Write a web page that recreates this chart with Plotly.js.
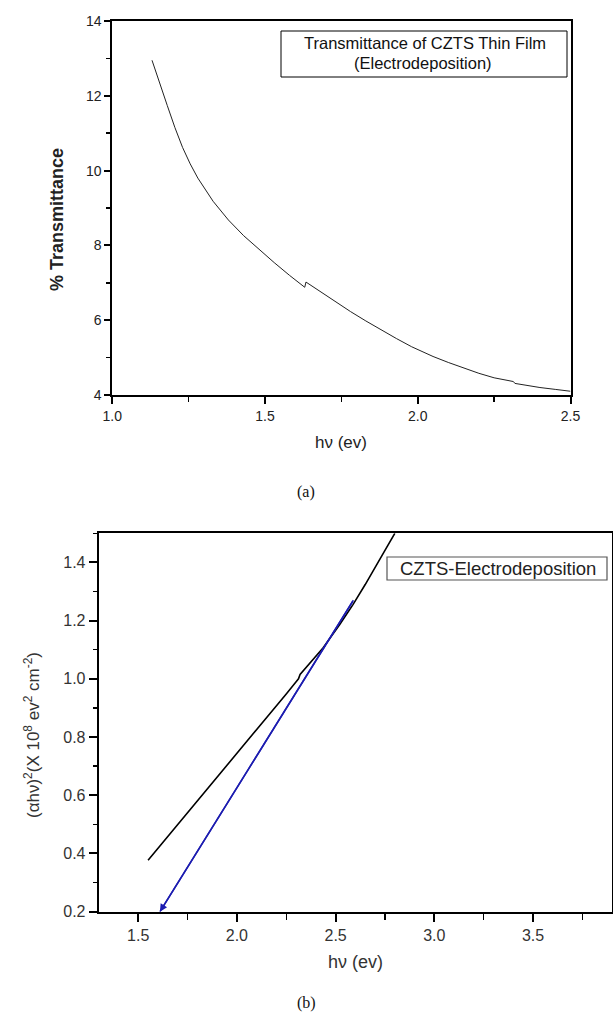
<!DOCTYPE html>
<html>
<head>
<meta charset="utf-8">
<script src="https://cdn.plot.ly/plotly-3.0.1.min.js"></script>
<style>
html,body{margin:0;padding:0;background:#fff;}
#chart{width:613px;height:1020px;}
</style>
</head>
<body>
<div id="chart"></div>
<script>
// (a) Transmittance vs photon energy
const transX = [1.13, 1.155, 1.18, 1.205, 1.23, 1.255, 1.28, 1.33, 1.38, 1.43, 1.48, 1.53, 1.58, 1.630, 1.634, 1.68, 1.73, 1.78, 1.83, 1.88, 1.93, 1.98, 2.05, 2.10, 2.15, 2.20, 2.25, 2.30, 2.313, 2.318, 2.35, 2.40, 2.45, 2.50];
const transY = [12.95, 12.32, 11.74, 11.15, 10.62, 10.18, 9.80, 9.18, 8.68, 8.26, 7.89, 7.54, 7.20, 6.88, 7.02, 6.77, 6.50, 6.23, 5.98, 5.74, 5.51, 5.29, 5.03, 4.87, 4.72, 4.58, 4.46, 4.38, 4.36, 4.31, 4.26, 4.20, 4.15, 4.10];

// (b) Tauc plot (alpha h nu)^2 vs h nu
const taucX = [1.55, 1.65, 1.743, 1.85, 1.98, 2.08, 2.183, 2.25, 2.30, 2.312, 2.32, 2.37, 2.436, 2.52, 2.588, 2.65, 2.706, 2.75, 2.80];
const taucY = [0.377, 0.458, 0.536, 0.623, 0.728, 0.810, 0.893, 0.948, 0.990, 1.000, 1.015, 1.053, 1.106, 1.186, 1.255, 1.324, 1.387, 1.441, 1.50];

// linear extrapolation (tail -> head)
const fitX = [2.59, 1.61];
const fitY = [1.27, 0.2];

// texts
const topXTitle = 'hν (ev)';
const topYTitle = '% Transmittance';
const topLegend1 = 'Transmittance of CZTS Thin Film';
const topLegend2 = '(Electrodeposition)';
const botXTitle = 'hν (ev)';
const botYTitle = '(αhν)<sup>2</sup>(X 10<sup>8</sup> ev<sup>2</sup> cm<sup>-2</sup>)';
const botLegend = 'CZTS-Electrodeposition';

const W = 613, H = 1020;
const px = v => v / W;
const py = v => 1 - v / H;
const FONT = 'Liberation Sans, Arial, sans-serif';

const traces = [
  {x: transX, y: transY, xaxis: 'x', yaxis: 'y', mode: 'lines',
   line: {color: '#222222', width: 1}, showlegend: false, hoverinfo: 'skip'},
  {x: taucX, y: taucY, xaxis: 'x2', yaxis: 'y2', mode: 'lines',
   line: {color: '#000000', width: 1.6}, showlegend: false, hoverinfo: 'skip'},
  {x: fitX, y: fitY, xaxis: 'x2', yaxis: 'y2', mode: 'lines',
   line: {color: '#1c1cb0', width: 1.5}, showlegend: false, hoverinfo: 'skip'}
];

const axCommon = {
  showgrid: false, zeroline: false, showline: true, linecolor: '#000', linewidth: 2,
  mirror: true, ticks: 'outside', tickcolor: '#000', tickwidth: 2,
  fixedrange: true
};

const layout = {
  width: W, height: H,
  margin: {l: 0, r: 0, t: 0, b: 0},
  paper_bgcolor: '#fff', plot_bgcolor: '#fff',
  font: {family: FONT, color: '#222', size: 14},
  showlegend: false,
  xaxis: Object.assign({}, axCommon, {
    domain: [px(112.3), px(570.5)], anchor: 'y', range: [1.0, 2.5],
    tick0: 1.0, dtick: 0.5, tickformat: '.1f', ticklen: 7,
    tickfont: {size: 14, color: '#222', family: FONT},
    minor: {tick0: 1.0, dtick: 0.25, ticks: 'outside', ticklen: 5, tickwidth: 1.5, tickcolor: '#000'}
  }),
  yaxis: Object.assign({}, axCommon, {
    domain: [py(395), py(21)], anchor: 'x', range: [4, 14],
    tick0: 4, dtick: 2, tickformat: 'd', ticklen: 6,
    tickfont: {size: 14, color: '#222', family: FONT},
    minor: {tick0: 4, dtick: 1, ticks: 'outside', ticklen: 4, tickwidth: 1.5, tickcolor: '#000'}
  }),
  xaxis2: Object.assign({}, axCommon, {
    domain: [px(98.7), px(612)], anchor: 'y2', range: [1.3, 3.9],
    tick0: 1.5, dtick: 0.5, tickformat: '.1f', ticklen: 8,
    tickfont: {size: 16, color: '#333', family: FONT},
    minor: {tick0: 1.5, dtick: 0.25, ticks: 'outside', ticklen: 6, tickwidth: 1.5, tickcolor: '#000'}
  }),
  yaxis2: Object.assign({}, axCommon, {
    domain: [py(911.7), py(533.3)], anchor: 'x2', range: [0.2, 1.5],
    tick0: 0.2, dtick: 0.2, tickformat: '.1f', ticklen: 8,
    tickfont: {size: 16, color: '#333', family: FONT},
    minor: {tick0: 0.2, dtick: 0.1, ticks: 'outside', ticklen: 4, tickwidth: 1.5, tickcolor: '#000'}
  }),
  shapes: [
    {type: 'rect', xref: 'paper', yref: 'paper', x0: px(281), x1: px(567), y0: py(77), y1: py(31),
     line: {color: '#000', width: 1}, fillcolor: 'rgba(0,0,0,0)'},
    {type: 'rect', xref: 'paper', yref: 'paper', x0: px(387), x1: px(607), y0: py(580), y1: py(557),
     line: {color: '#555', width: 1.2}, fillcolor: 'rgba(0,0,0,0)'}
  ],
  annotations: [
    {xref: 'paper', yref: 'paper', x: px(425), y: py(43), text: topLegend1, showarrow: false,
     xanchor: 'center', yanchor: 'middle', font: {size: 16.5, color: '#111', family: FONT}},
    {xref: 'paper', yref: 'paper', x: px(423), y: py(63), text: topLegend2, showarrow: false,
     xanchor: 'center', yanchor: 'middle', font: {size: 16.5, color: '#111', family: FONT}},
    {xref: 'paper', yref: 'paper', x: px(341), y: py(442), text: topXTitle, showarrow: false,
     xanchor: 'center', yanchor: 'middle', font: {size: 17, color: '#222', family: FONT}},
    {xref: 'paper', yref: 'paper', x: px(57), y: py(220), text: '<b>' + topYTitle + '</b>', showarrow: false,
     textangle: -90, xanchor: 'center', yanchor: 'middle', font: {size: 18, color: '#222', family: FONT}},
    {xref: 'paper', yref: 'paper', x: px(498), y: py(568.5), text: botLegend, showarrow: false,
     xanchor: 'center', yanchor: 'middle', font: {size: 18.5, color: '#222', family: FONT}},
    {xref: 'paper', yref: 'paper', x: px(355), y: py(962), text: botXTitle, showarrow: false,
     xanchor: 'center', yanchor: 'middle', font: {size: 18, color: '#333', family: FONT}},
    {xref: 'paper', yref: 'paper', x: px(32), y: py(735), text: botYTitle, showarrow: false,
     textangle: -90, xanchor: 'center', yanchor: 'middle', font: {size: 17, color: '#333', family: FONT}},
    {xref: 'paper', yref: 'paper', x: px(306), y: py(492), text: '(a)', showarrow: false,
     xanchor: 'center', yanchor: 'middle', font: {size: 16, color: '#111', family: 'Liberation Serif, Times New Roman, serif'}},
    {xref: 'paper', yref: 'paper', x: px(306), y: py(1003), text: '(b)', showarrow: false,
     xanchor: 'center', yanchor: 'middle', font: {size: 16, color: '#111', family: 'Liberation Serif, Times New Roman, serif'}},
    {xref: 'x2', yref: 'y2', axref: 'x2', ayref: 'y2',
     x: fitX[1], y: fitY[1], ax: fitX[0], ay: fitY[0], text: '', showarrow: true,
     arrowhead: 2, arrowsize: 1, arrowwidth: 1.5, arrowcolor: '#1c1cb0', standoff: 0, startstandoff: 0}
  ]
};

Plotly.newPlot('chart', traces, layout, {staticPlot: true, displayModeBar: false});
</script>
</body>
</html>
